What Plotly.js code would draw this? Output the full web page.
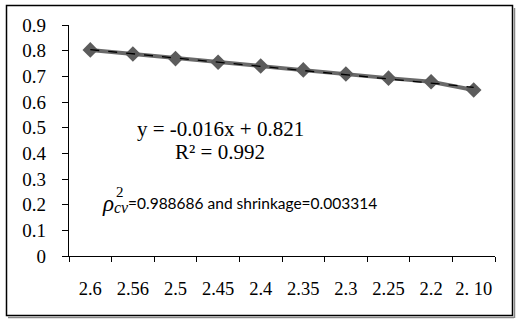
<!DOCTYPE html>
<html><head><meta charset="utf-8">
<script src="https://cdn.plot.ly/plotly-3.0.1.min.js"></script>
<style>html,body{margin:0;padding:0;background:#fff}#chart{width:520px;height:321px}
.xtick text,.ytick text{font-family:"Liberation Serif","Times New Roman",serif !important}</style>
</head><body><div id="chart"></div>
<script>
const categories = ["2.6","2.56","2.5","2.45","2.4","2.35","2.3","2.25","2.2","2. 10"];
const values = [0.803, 0.787, 0.769, 0.755, 0.740, 0.725, 0.709, 0.693, 0.679, 0.647];
const yTicks = [0,0.1,0.2,0.3,0.4,0.5,0.6,0.7,0.8,0.9];
const eqText = "y = -0.016x + 0.821";
const r2Text = "R² = 0.992";
const cvText = "=0.988686 and shrinkage=0.003314";

// least-squares linear trendline over positions 1..n
const n = values.length;
const xs = values.map((_, i) => i + 1);
const mx = xs.reduce((a,b)=>a+b,0)/n, my = values.reduce((a,b)=>a+b,0)/n;
let sxy=0, sxx=0;
for (let i=0;i<n;i++){ sxy+=(xs[i]-mx)*(values[i]-my); sxx+=(xs[i]-mx)**2; }
const slope = sxy/sxx, icpt = my - slope*mx;
const trend = xs.map(x => icpt + slope*x);

const L=69, R=495, T=25, B=256, W=R-L, H=B-T;
const px = v => (v-L)/W, py = v => (B-v)/H;

const data = [
  {x: categories, y: values, type:'scatter', mode:'lines+markers',
   line:{color:'#6a6a6a', width:4}, marker:{symbol:'diamond', size:12, color:'#5c5c5c'}, hoverinfo:'none'},
  {x: categories, y: trend, type:'scatter', mode:'lines',
   line:{color:'#000', width:1.3, dash:'dash'}, hoverinfo:'none'}
];
const serif = 'Liberation Serif';
function ann(x, y, text, font, xanchor){
  return {xref:'paper', yref:'paper', x:px(x), y:py(y), text:text, showarrow:false,
    xanchor:xanchor||'center', yanchor:'middle', font:font};
}
const layout = {
  width:520, height:321, showlegend:false,
  font:{family:serif, color:'#000'},
  margin:{l:L, r:520-R, t:T, b:321-B},
  paper_bgcolor:'#fff', plot_bgcolor:'#fff',
  xaxis:{type:'category', range:[-0.5,9.5], showline:true, linecolor:'#000', linewidth:1.3,
    ticks:'outside', ticklen:5, tickcolor:'#000', tickson:'boundaries', showgrid:false, zeroline:false,
    tickangle:0, automargin:false,
    tickfont:{family:serif, size:18.5, color:'#000'}, ticklabelstandoff:15, fixedrange:true},
  yaxis:{range:[0,0.9], tickvals:yTicks, ticktext:yTicks.map(String), showline:true, linecolor:'#000', linewidth:1.3,
    ticks:'outside', ticklen:6, tickcolor:'#000', showgrid:false, zeroline:false, automargin:false,
    tickfont:{family:serif, size:19, color:'#000'}, ticklabelstandoff:12, fixedrange:true},
  shapes:[
    {type:'rect', xref:'paper', yref:'paper', x0:px(6.5), x1:px(512.5), y0:py(315.5), y1:py(5.5),
     line:{color:'#000', width:1.5}},
    {type:'line', xref:'paper', yref:'paper', x0:px(8), x1:px(514), y0:py(317.5), y1:py(317.5), line:{color:'#888', width:1.5}},
    {type:'line', xref:'paper', yref:'paper', x0:px(514.5), x1:px(514.5), y0:py(318), y1:py(8), line:{color:'#888', width:1.5}}
  ],
  annotations:[
    ann(220, 129, eqText, {family:serif, size:21, color:'#000'}),
    ann(220, 152, r2Text, {family:serif, size:21, color:'#000'}),
    ann(108, 203, '<i>ρ</i>', {family:serif, size:23, color:'#000'}),
    ann(120, 192, '2', {family:serif, size:15, color:'#000'}),
    ann(121, 208, '<i>cv</i>', {family:serif, size:16, color:'#000'}),
    ann(126, 203, cvText, {family:'Lato', size:15.5, color:'#000'}, 'left')
  ]
};
Plotly.newPlot('chart', data, layout, {staticPlot:true, displayModeBar:false});
</script></body></html>
